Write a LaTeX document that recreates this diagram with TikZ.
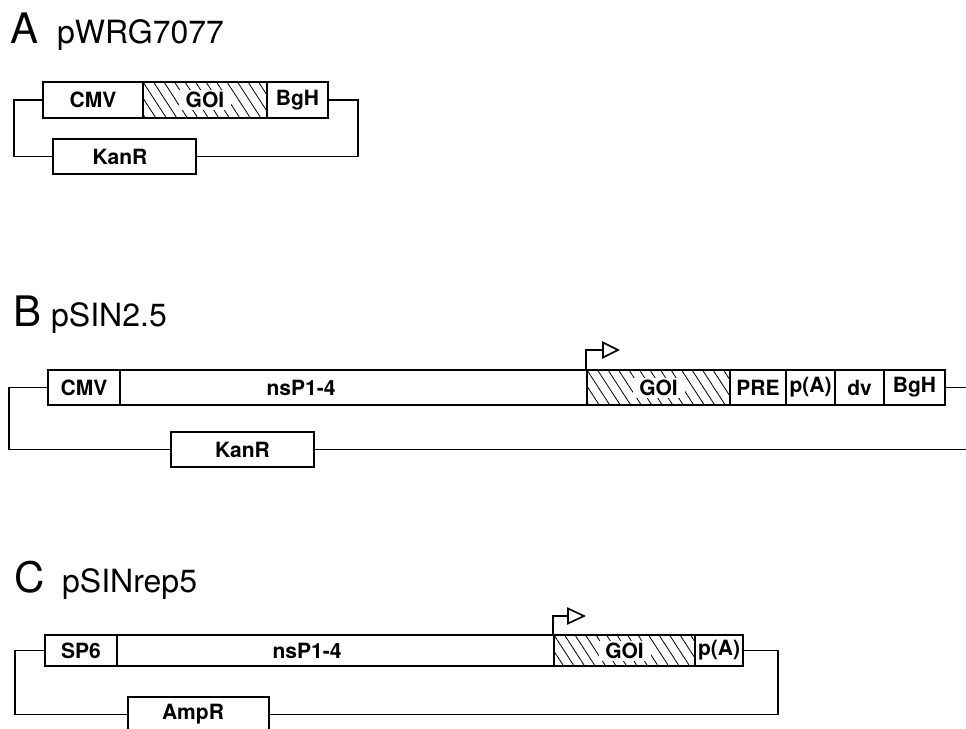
\documentclass[tikz,border=0pt]{standalone}
\usepackage{fontspec}
\setmainfont{TeX Gyre Heros}
\usetikzlibrary{calc}
\begin{document}
\begin{tikzpicture}[x=1pt,y=-1pt,
  seg/.style={draw, fill=white, line width=2pt, inner sep=0pt,
    font=\fontsize{21}{21}\selectfont\bfseries},
  segtext/.style={inner sep=0pt, font=\fontsize{21}{21}\selectfont\bfseries},
  wire/.style={line width=1.6pt},
  hatch/.style={path picture={
    \foreach \i in {-4,...,16}
      \draw[line width=0.8pt] ([xshift=\i*10.5pt]path picture bounding box.north west) -- ++(26pt,-40pt);
    \fill[white] ([xshift=-26pt,yshift=-10pt]path picture bounding box.center) rectangle ([xshift=26pt,yshift=10pt]path picture bounding box.center);
  }},
  letter/.style={anchor=base west, inner sep=0pt, font=\fontsize{42}{42}\selectfont},
  pname/.style={anchor=base west, inner sep=0pt, font=\fontsize{32}{32}\selectfont},
  prom/.style={draw, line width=1.6pt, fill=white, line join=miter}
]
\useasboundingbox (0,0) rectangle (966,728);

% ---------- Panel A ----------
\node[letter] (tA) at (10,43) {A};
\node[pname] (nA) at (57,43) {pWRG7077};
\node[seg, minimum width=100pt, minimum height=36pt] (cmvA) at (93,100) {CMV};
\node[seg, hatch, minimum width=124pt, minimum height=36pt] (goiA) at (205,100) {GOI};
\node[seg, minimum width=61pt, minimum height=36pt] (bghA) at (297.5,100) {BgH};
\node[seg, minimum width=143pt, minimum height=35pt] (kanA) at (124.5,156.5) {};
\node[segtext] (kanAt) at (120,156.5) {KanR};
\coordinate (aL) at (14,0);
\coordinate (aR) at (358,0);
\draw[wire] (cmvA.west) -- (cmvA.west -| aL) |- (kanA.west);
\draw[wire] (bghA.east) -- (bghA.east -| aR) |- (kanA.east);

% ---------- Panel B ----------
\node[letter] (tB) at (13,326) {B};
\node[pname] (nB) at (51,326) {pSIN2.5};
\node[seg, minimum width=72pt, minimum height=35pt] (cmvB) at (84,387.5) {CMV};
\node[seg, minimum width=467pt, minimum height=35pt] (nspB) at (353.5,387.5) {};
\node[segtext] (nspBt) at (301,387.5) {nsP1-4};
\node[seg, hatch, minimum width=143pt, minimum height=35pt] (goiB) at (658.5,387.5) {GOI};
\node[seg, minimum width=56pt, minimum height=35pt] (preB) at (758,387.5) {PRE};
\node[seg, minimum width=49pt, minimum height=35pt] (paB) at (810.5,387.5) {p(A)};
\node[seg, minimum width=49pt, minimum height=35pt] (dvB) at (859.5,387.5) {dv};
\node[seg, minimum width=61pt, minimum height=35pt] (bghB) at (914.5,387.5) {BgH};
\node[seg, minimum width=143pt, minimum height=35pt] (kanB) at (242.5,449.5) {KanR};
\coordinate (bL) at (9,0);
\coordinate (bR) at (972,0);
\draw[wire] (cmvB.west) -- (cmvB.west -| bL) |- (kanB.west);
\draw[wire] (bghB.east) -- (bghB.east -| bR);
\draw[wire] (kanB.east) -- (kanB.east -| bR);
\coordinate (pB) at (603,350);
\draw[wire] (goiB.north west) |- (pB);
\draw[prom] (pB) ++(0,-7.5) -- ++(15,7.5) -- ++(-15,7.5) -- cycle;

% ---------- Panel C ----------
\node[letter] (tC) at (14,592) {C};
\node[pname] (nC) at (62,592) {pSINrep5};
\node[seg, minimum width=72pt, minimum height=31pt] (sp6C) at (81,650.5) {SP6};
\node[seg, minimum width=437pt, minimum height=31pt] (nspC) at (335.5,650.5) {};
\node[segtext] (nspCt) at (307,650.5) {nsP1-4};
\node[seg, hatch, minimum width=141pt, minimum height=31pt] (goiC) at (624.5,650.5) {GOI};
\node[seg, minimum width=48pt, minimum height=31pt] (paC) at (719,650.5) {p(A)};
\node[seg, minimum width=141pt, minimum height=35pt] (ampC) at (198.5,714.5) {};
\node[segtext] (ampCt) at (193,714.5) {AmpR};
\coordinate (cL) at (15,0);
\coordinate (cR) at (778,0);
\draw[wire] (sp6C.west) -- (sp6C.west -| cL) |- (ampC.west);
\draw[wire] (paC.east) -- (paC.east -| cR) |- (ampC.east);
\coordinate (pC) at (568,616);
\draw[wire] (goiC.north west) |- (pC);
\draw[prom] (pC) ++(0,-7.5) -- ++(16,7.5) -- ++(-16,7.5) -- cycle;
\end{tikzpicture}
\end{document}
